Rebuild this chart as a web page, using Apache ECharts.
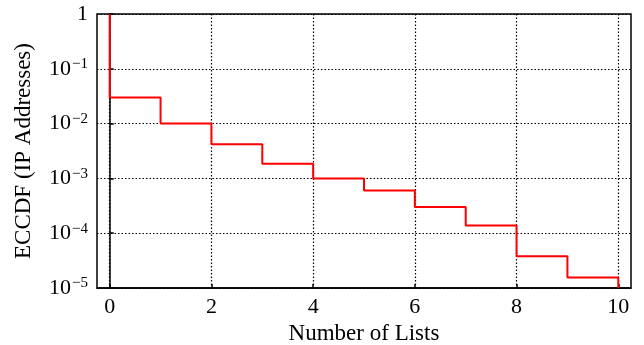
<!DOCTYPE html>
<html>
<head>
<meta charset="utf-8">
<script src="https://cdn.jsdelivr.net/npm/echarts@6/dist/echarts.min.js"></script>
<style>
  html, body { margin: 0; padding: 0; background: #fff; }
  #chart { width: 644px; height: 345px; }
</style>
</head>
<body>
<div id="chart"></div>
<script>
// ECCDF of number of lists per IP address (log y axis)
const numLists = [0, 0, 1, 2, 3, 4, 5, 6, 7, 8, 9, 10];
const eccdf = [1, 0.03, 0.01, 0.0042, 0.00186, 0.001, 0.0006, 0.0003, 0.000138, 0.000038, 0.0000155, 0.00001];
const xTicks = [0, 2, 4, 6, 8, 10];

const chart = echarts.init(document.getElementById('chart'));
const font = 'Liberation Serif';

const option = {
  animation: false,
  grid: {
    left: 97, right: 13, top: 14, bottom: 57,
    show: true,
    borderColor: '#000',
    borderWidth: 1.5,
    containLabel: false,
    outerBoundsMode: 'none'
  },
  xAxis: {
    type: 'value',
    min: -0.25,
    max: 10.25,
    name: 'Number of Lists',
    nameLocation: 'middle',
    nameGap: 30,
    nameTextStyle: { fontFamily: font, fontSize: 23, color: '#000' },
    axisLine: { show: true, lineStyle: { color: '#000', width: 1.5 } },
    axisTick: { show: true, inside: true, length: 4, customValues: xTicks, lineStyle: { color: '#000', width: 1.5 } },
    axisLabel: { customValues: xTicks, margin: 8, fontFamily: font, fontSize: 22, color: '#000' },
    splitLine: { show: true, lineStyle: { color: '#000', width: 1.2, type: [1.5, 2] } }
  },
  yAxis: {
    type: 'log',
    logBase: 10,
    min: 0.00001,
    max: 1,
    name: 'ECCDF (IP Addresses)',
    nameLocation: 'middle',
    nameGap: 62,
    nameTextStyle: { fontFamily: font, fontSize: 23, color: '#000' },
    axisLine: { show: true, lineStyle: { color: '#000', width: 1.5 } },
    axisTick: { show: true, inside: true, length: 4, lineStyle: { color: '#000', width: 1.5 } },
    minorTick: { show: false },
    axisLabel: {
      margin: 9,
      formatter: (v) => {
        const e = Math.round(Math.log10(v));
        if (e === 0) return '{b|1}';
        return '{b|10}{s|\u2212' + (-e) + '}';
      },
      rich: {
        b: { fontFamily: font, fontSize: 22, color: '#000', lineHeight: 24 },
        s: { fontFamily: font, fontSize: 15, color: '#000', verticalAlign: 'top', lineHeight: 15, padding: [0, 0, 10, 1] }
      }
    },
    splitLine: { show: true, lineStyle: { color: '#000', width: 1.2, type: [1.5, 2] } }
  },
  series: [{
    type: 'line',
    step: 'end',
    data: numLists.map((x, i) => [x, eccdf[i]]),
    showSymbol: false,
    clip: true,
    lineStyle: { color: '#ff0000', width: 2 },
    z: 5
  }]
};

chart.setOption(option);
</script>
</body>
</html>
